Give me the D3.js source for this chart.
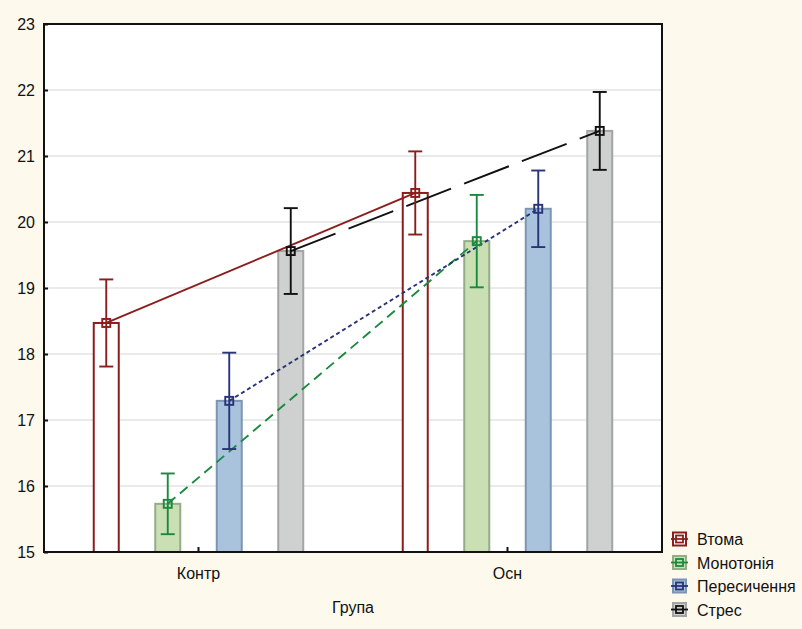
<!DOCTYPE html>
<html>
<head>
<meta charset="utf-8">
<script src="https://cdn.jsdelivr.net/npm/d3@7"></script>
<style>
  body { margin: 0; background: #fdf9ed; }
  svg { display: block; font-family: "Liberation Sans", Arial, sans-serif; }
</style>
</head>
<body>
<svg id="chart" width="802" height="629"></svg>
<script>
// data
const groups = ['Контр', 'Осн'];
const seriesNames = ['Втома', 'Монотонія', 'Пересичення', 'Стрес'];
const means = {
  'Втома':       [18.47, 20.44],
  'Монотонія':   [15.73, 19.71],
  'Пересичення': [17.29, 20.20],
  'Стрес':       [19.56, 21.38]
};
const errs = {
  'Втома':       [0.66, 0.63],
  'Монотонія':   [0.46, 0.70],
  'Пересичення': [0.73, 0.58],
  'Стрес':       [0.65, 0.59]
};
const yTicks = [15, 16, 17, 18, 19, 20, 21, 22, 23];
const xTitle = 'Група';

const styles = {
  'Втома':       { fill: '#ffffff', stroke: '#8c1d1d', line: '#8c1d1d', dash: null },
  'Монотонія':   { fill: '#cbdfb5', stroke: '#93ad87', line: '#1b8a3e', dash: '10,6' },
  'Пересичення': { fill: '#a9c3dd', stroke: '#7b95b2', line: '#28337a', dash: '4,3' },
  'Стрес':       { fill: '#cfd0d0', stroke: '#a3a4a4', line: '#111111', dash: '48,14' }
};

const svg = d3.select('#chart');
const margin = { top: 24, right: 140, bottom: 77, left: 44 };
const width = 802, height = 629;

const x = d3.scaleBand()
    .domain(groups)
    .range([margin.left, width - margin.right])
    .padding(0);

const xInner = d3.scaleBand()
    .domain(seriesNames)
    .range([0, x.bandwidth()])
    .paddingInner(0.5935)
    .paddingOuter(0.809);

const y = d3.scaleLinear()
    .domain([15, 23])
    .range([height - margin.bottom, margin.top]);

// plot background
svg.append('rect')
    .attr('x', margin.left)
    .attr('y', margin.top)
    .attr('width', width - margin.right - margin.left)
    .attr('height', y(15) - y(23))
    .attr('fill', '#ffffff');

// grid
svg.append('g')
    .selectAll('line')
    .data(yTicks.slice(1, -1))
    .join('line')
    .attr('x1', margin.left)
    .attr('x2', width - margin.right)
    .attr('y1', d => y(d))
    .attr('y2', d => y(d))
    .attr('stroke', '#d6d6d6')
    .attr('stroke-width', 1.2);

const cx = (s, i) => x(groups[i]) + xInner(s) + xInner.bandwidth() / 2;

// bars
seriesNames.forEach(s => {
  svg.append('g')
    .selectAll('rect')
    .data(means[s])
    .join('rect')
    .attr('x', (d, i) => x(groups[i]) + xInner(s))
    .attr('y', d => y(d))
    .attr('width', xInner.bandwidth())
    .attr('height', d => y(15) - y(d))
    .attr('fill', styles[s].fill)
    .attr('stroke', styles[s].stroke)
    .attr('stroke-width', 2);
});

// lines connecting means
seriesNames.forEach(s => {
  const line = d3.line()
      .x((d, i) => cx(s, i))
      .y(d => y(d));
  svg.append('path')
    .datum(means[s])
    .attr('d', line)
    .attr('fill', 'none')
    .attr('stroke', styles[s].line)
    .attr('stroke-width', 1.9)
    .attr('stroke-dasharray', styles[s].dash);
});

// error bars + markers
seriesNames.forEach(s => {
  const g = svg.append('g')
      .attr('stroke', styles[s].line)
      .attr('stroke-width', 1.9)
      .attr('fill', 'none');
  means[s].forEach((m, i) => {
    const px = cx(s, i);
    const e = errs[s][i];
    g.append('line').attr('x1', px).attr('x2', px).attr('y1', y(m + e)).attr('y2', y(m - e));
    g.append('line').attr('x1', px - 7).attr('x2', px + 7).attr('y1', y(m + e)).attr('y2', y(m + e));
    g.append('line').attr('x1', px - 7).attr('x2', px + 7).attr('y1', y(m - e)).attr('y2', y(m - e));
    g.append('rect').attr('x', px - 4).attr('y', y(m) - 4).attr('width', 8).attr('height', 8);
  });
});

// frame
svg.append('rect')
    .attr('x', margin.left)
    .attr('y', margin.top)
    .attr('width', width - margin.right - margin.left)
    .attr('height', y(15) - y(23))
    .attr('fill', 'none')
    .attr('stroke', '#111')
    .attr('stroke-width', 2);

const fontStyle = g => g.selectAll('text')
    .attr('font-size', '16px')
    .attr('fill', '#111')
    .attr('font-family', '"Liberation Sans", Arial, sans-serif');

// y axis
const yAxis = d3.axisLeft(y)
    .tickValues(yTicks)
    .tickSize(-4)
    .tickPadding(9)
    .tickFormat(d3.format('d'));

svg.append('g')
    .attr('transform', `translate(${margin.left},0)`)
    .call(yAxis)
    .call(g => g.select('.domain').remove())
    .call(g => g.selectAll('line').attr('stroke', '#111').attr('stroke-width', 2))
    .call(fontStyle);

// x axis
const xAxis = d3.axisBottom(x)
    .tickSize(-5)
    .tickPadding(16);

svg.append('g')
    .attr('transform', `translate(0,${y(15)})`)
    .call(xAxis)
    .call(g => g.select('.domain').remove())
    .call(g => g.selectAll('line').attr('stroke', '#111').attr('stroke-width', 2))
    .call(fontStyle);

// x title
svg.append('text')
    .attr('x', (margin.left + width - margin.right) / 2)
    .attr('y', 613)
    .attr('text-anchor', 'middle')
    .attr('font-size', '16px')
    .attr('fill', '#111')
    .text(xTitle);

// legend
const legend = svg.append('g')
    .attr('transform', 'translate(672, 539)');

seriesNames.forEach((s, i) => {
  const row = legend.append('g').attr('transform', `translate(0, ${i * 23.5})`);
  row.append('rect')
    .attr('x', 1).attr('y', -6.5)
    .attr('width', 13).attr('height', 13)
    .attr('fill', styles[s].fill)
    .attr('stroke', styles[s].stroke)
    .attr('stroke-width', 2);
  row.append('line')
    .attr('x1', -1).attr('x2', 16)
    .attr('y1', 0).attr('y2', 0)
    .attr('stroke', styles[s].line)
    .attr('stroke-width', 1.8);
  row.append('rect')
    .attr('x', 4).attr('y', -3.5)
    .attr('width', 7).attr('height', 7)
    .attr('fill', 'none')
    .attr('stroke', styles[s].line)
    .attr('stroke-width', 1.8);
  row.append('text')
    .attr('x', 25)
    .attr('y', 6)
    .attr('font-size', '16px')
    .attr('fill', '#111')
    .text(s);
});
</script>
</body>
</html>
